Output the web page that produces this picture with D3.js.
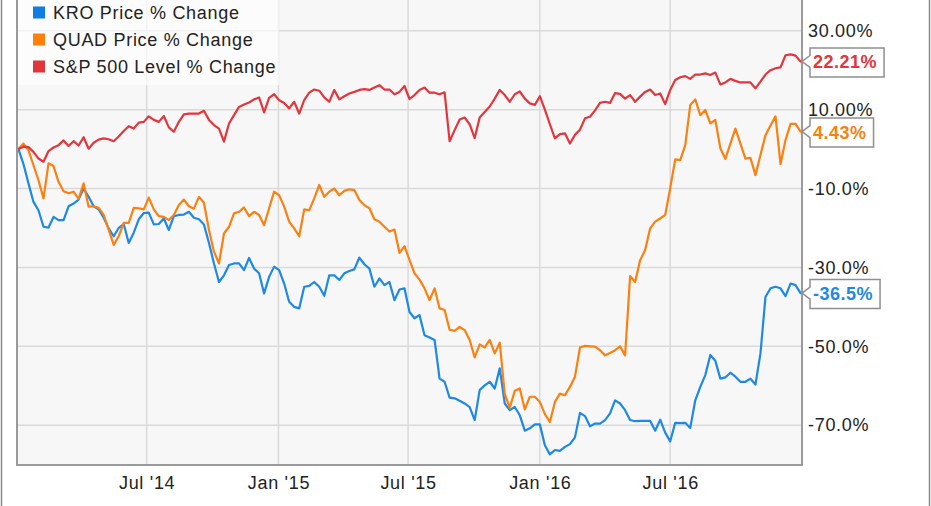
<!DOCTYPE html>
<html><head><meta charset="utf-8">
<script src="https://cdn.jsdelivr.net/npm/d3@7"></script>
<style>
html,body{margin:0;padding:0;background:#fff;}
svg{display:block;font-family:"Liberation Sans",Arial,Helvetica,sans-serif;}
</style></head><body>
<svg id="chart" width="931" height="506"></svg>
<script>
// ---------- DATA ----------
const firstDate = "2014-01-03";           // first weekly observation
const weeksCount = 157;                    // weekly observations through 2016-12-30
const seriesNames = ["KRO Price % Change", "QUAD Price % Change", "S&P 500 Level % Change"];

const kro = [0,-3.8,-8.7,-13.4,-15.5,-19.7,-19.9,-17.2,-18.0,-18.0,-14.5,-13.8,-12.8,-10.0,-12.1,-14.5,-15.3,-17.4,-20.1,-22.1,
  -20.0,-19.0,-23.8,-21.2,-17.8,-16.2,-16.1,-19.1,-19.0,-17.6,-20.5,-17.0,-16.7,-16.6,-15.9,-17.4,-17.8,-19.1,-23.8,-29.0,
  -33.7,-32.0,-29.4,-29.0,-29.0,-30.7,-27.6,-30.3,-31.5,-36.6,-32.4,-29.8,-30.7,-34.1,-38.7,-40.0,-40.4,-34.9,-34.7,-33.7,
  -34.9,-37.2,-32.0,-32.0,-33.2,-31.5,-30.9,-30.5,-27.5,-29.2,-30.3,-34.9,-32.8,-34.5,-33.7,-38.3,-35.6,-35.3,-41.3,-42.9,
  -42.1,-47.2,-47.8,-48.4,-58.2,-59.0,-63.0,-63.2,-63.8,-64.5,-65.4,-68.7,-61.1,-59.9,-59.0,-60.7,-55.6,-64.5,-66.2,-65.4,
  -67.5,-71.4,-70.8,-69.8,-69.8,-75.1,-77.4,-76.3,-76.5,-75.5,-74.8,-73.1,-66.9,-67.7,-70.3,-69.6,-69.6,-68.7,-67.0,-63.7,
  -64.5,-66.2,-68.7,-69.0,-68.9,-68.9,-68.9,-71.4,-68.6,-71.9,-74.1,-69.4,-69.5,-69.4,-70.7,-63.7,-60.3,-57.3,-52.2,-53.7,
  -58.2,-57.9,-56.7,-57.7,-59.0,-59.0,-58.2,-59.7,-51.8,-37.5,-35.3,-34.9,-35.3,-37.3,-34.1,-34.5,-36.5];

const quad = [0,1.4,-0.3,-4.1,-7.9,-12.5,-3.6,-4.3,-8.3,-10.7,-11.2,-10.8,-12.6,-8.7,-14.6,-14.5,-14.9,-16.7,-20.4,-24.3,
  -22.1,-18.7,-18.7,-14.9,-15.0,-15.3,-12.3,-15.3,-17.0,-17.2,-18.0,-16.7,-14.2,-12.8,-14.5,-15.1,-12.1,-13.6,-20.5,-26.0,
  -29.0,-21.4,-19.7,-16.3,-15.9,-14.8,-17.0,-15.9,-16.7,-19.3,-15.0,-10.8,-11.7,-14.6,-18.4,-20.1,-22.1,-15.3,-15.5,-12.5,
  -9.1,-12.1,-10.8,-10.0,-11.7,-10.6,-10.2,-10.4,-12.9,-14.2,-15.0,-17.8,-18.4,-19.7,-20.9,-20.4,-26.3,-24.6,-28.1,-31.5,
  -33.1,-35.3,-38.3,-35.3,-40.4,-40.8,-45.8,-46.1,-45.1,-45.9,-48.4,-52.8,-49.5,-50.3,-48.4,-51.8,-49.1,-62.1,-65.6,-61.3,
  -60.7,-66.0,-62.8,-62.8,-64.1,-67.2,-69.2,-64.1,-62.0,-62.4,-60.3,-57.7,-50.3,-49.9,-50.0,-50.1,-51.0,-52.3,-51.7,-51.0,
  -50.0,-52.3,-32.2,-33.7,-28.2,-25.6,-20.1,-18.4,-17.6,-16.7,-9.9,-2.6,-2.8,1.0,11.2,12.6,8.6,9.9,6.5,7.4,
  0.2,-2.5,1.4,5.2,1.4,-2.4,-2.2,-6.6,-1.5,3.5,6.0,8.3,-3.8,2.3,6.4,6.4,4.43];

const spx = [0,0.6,0.5,-0.7,-2.4,-3.2,-0.5,0.4,1.0,2.2,0.8,2.0,0.9,3.0,0.1,1.6,2.4,2.7,2.5,2.0,
  3.2,4.6,5.8,5.2,6.7,6.9,8.3,7.4,6.9,8.4,5.5,4.4,6.9,8.8,9.0,9.0,9.0,9.7,7.4,6.1,
  5.2,1.9,6.5,8.6,10.7,11.3,11.8,12.6,13.1,9.3,13.0,13.9,12.4,11.7,10.3,12.0,9.0,12.4,14.3,15.1,
  14.8,13.1,12.0,15.0,12.6,13.4,14.1,14.5,15.0,15.2,15.0,15.6,16.2,15.1,15.1,13.9,14.5,16.0,12.7,13.7,
  15.0,15.6,14.3,14.3,13.9,14.4,2.0,4.8,7.5,8.0,6.3,2.8,8.0,9.4,10.8,12.8,15.0,13.7,12.0,13.9,
  14.6,12.8,11.6,11.2,13.4,10.0,6.3,2.7,3.8,4.0,1.4,3.6,4.9,7.8,8.2,9.8,11.7,12.0,11.7,14.2,
  14.0,12.8,13.7,12.0,13.3,14.5,15.1,13.7,14.1,11.4,15.0,17.5,18.2,18.5,17.8,18.9,18.9,19.2,18.8,19.4,
  16.4,16.9,17.8,17.3,16.9,16.9,16.9,15.4,17.1,18.9,20.0,20.5,20.7,23.8,24.0,23.7,22.21];

const endLabels = ["-36.5%", "4.43%", "22.21%"];

const yTicks = [30, 10, -10, -30, -50, -70];
const yTickLabels = ["30.00%", "10.00%", "-10.0%", "-30.0%", "-50.0%", "-70.0%"];
const xTicks = ["2014-07-01", "2015-01-01", "2015-07-01", "2016-01-01", "2016-07-01"];
const xTickLabels = ["Jul '14", "Jan '15", "Jul '15", "Jan '16", "Jul '16"];
const xDomain = ["2014-01-01", "2017-01-01"];
const yDomain = [-80.1, 37.8];

// ---------- STYLE / LAYOUT ----------
const lineColors = ["#1d89e4", "#fb8010", "#e2363c"];
const legendColors = ["#0f7ee3", "#ff7f0a", "#e3343a"];
const W = 931, H = 506;
const plot = {left: 17, right: 802, top: 0, bottom: 465};
const font = "18px";

const parse = d3.timeParse("%Y-%m-%d");
const start = parse(firstDate);
const dates = d3.range(weeksCount).map(i => d3.timeDay.offset(start, 7 * i));

const x = d3.scaleTime().domain(xDomain.map(parse)).range([plot.left, plot.right]);
const y = d3.scaleLinear().domain(yDomain).range([plot.bottom, plot.top]);

const svg = d3.select("#chart");

// outer frame lines
svg.append("line").attr("x1", 1.5).attr("x2", 1.5).attr("y1", 0).attr("y2", H).attr("stroke", "#8a8a8a").attr("stroke-width", 1.5);
svg.append("line").attr("x1", 929.5).attr("x2", 929.5).attr("y1", 0).attr("y2", H).attr("stroke", "#8a8a8a").attr("stroke-width", 1.5);

// plot background
svg.append("rect").attr("x", plot.left).attr("y", plot.top)
  .attr("width", plot.right - plot.left).attr("height", plot.bottom - plot.top).attr("fill", "#f7f7f7");

// grid
const xTickDates = xTicks.map(parse);
svg.append("g").selectAll("line").data(xTickDates).join("line")
  .attr("x1", d => x(d)).attr("x2", d => x(d)).attr("y1", plot.top).attr("y2", plot.bottom)
  .attr("stroke", "#dadada").attr("stroke-width", 1.5);
svg.append("g").selectAll("line").data(yTicks).join("line")
  .attr("x1", plot.left).attr("x2", plot.right).attr("y1", d => y(d)).attr("y2", d => y(d))
  .attr("stroke", "#dadada").attr("stroke-width", 1.5);

// lines
const lineGen = d3.line().x((d, i) => x(dates[i])).y(d => y(d));
const allSeries = [kro, quad, spx];
svg.append("g").attr("clip-path", null).selectAll("path").data(allSeries).join("path")
  .attr("d", d => lineGen(d)).attr("fill", "none")
  .attr("stroke", (d, i) => lineColors[i]).attr("stroke-width", 2.2)
  .attr("stroke-linejoin", "round").attr("stroke-linecap", "round");

// plot borders
svg.append("path")
  .attr("d", `M${plot.left},${plot.top}V${plot.bottom}H${plot.right}V${plot.top}`)
  .attr("fill", "none").attr("stroke", "#9a9a9a").attr("stroke-width", 2);

// y axis (right)
const yAxis = d3.axisRight(y).tickValues(yTicks).tickSize(0).tickPadding(6)
  .tickFormat((d, i) => yTickLabels[i]);
const gy = svg.append("g").attr("transform", `translate(${plot.right},0)`).call(yAxis);
gy.select(".domain").remove();
gy.selectAll("text").attr("font-size", font).attr("fill", "#222").attr("letter-spacing", "0.7px")
  .attr("font-family", "'Liberation Sans', Arial, sans-serif");

// x axis (bottom)
const xAxis = d3.axisBottom(x).tickValues(xTickDates).tickSize(0).tickPadding(11)
  .tickFormat((d, i) => xTickLabels[i]);
const gx = svg.append("g").attr("transform", `translate(0,${plot.bottom})`).call(xAxis);
gx.select(".domain").remove();
gx.selectAll("text").attr("font-size", font).attr("fill", "#222").attr("letter-spacing", "0.7px")
  .attr("font-family", "'Liberation Sans', Arial, sans-serif");

// end labels
allSeries.forEach((s, i) => {
  const vy = y(s[s.length - 1]);
  const g = svg.append("g");
  const path = g.append("path");
  const t = g.append("text").attr("x", plot.right + 11).attr("y", vy + 1)
    .attr("dominant-baseline", "central").attr("font-size", font).attr("font-weight", "bold")
    .attr("letter-spacing", "0.5px").attr("fill", lineColors[i]).text(endLabels[i]);
  const tw = t.node().getComputedTextLength();
  const bx = plot.right + 8, top = vy - 13.5, bot = vy + 15.5, right = bx + tw + 10;
  path.attr("d", `M${bx},${top}H${right}V${bot}H${bx}V${vy + 6}L${plot.right},${vy}L${bx},${vy - 6}Z`)
    .attr("fill", "#fff").attr("stroke", "#8f8f8f").attr("stroke-width", 1.5);
});

// legend
svg.append("rect").attr("x", plot.left + 1).attr("y", 0).attr("width", 261).attr("height", 85)
  .attr("fill", "#fff").attr("fill-opacity", 0.65);
const lg = svg.append("g").selectAll("g").data(seriesNames).join("g")
  .attr("transform", (d, i) => `translate(33,${12.5 + i * 27})`);
lg.append("rect").attr("x", 0).attr("y", -6).attr("width", 12).attr("height", 12)
  .attr("fill", (d, i) => legendColors[i]);
lg.append("text").attr("x", 20).attr("y", 0).attr("dominant-baseline", "central")
  .attr("font-size", font).attr("letter-spacing", "0.7px").attr("fill", "#222").text(d => d);
</script>
</body></html>
